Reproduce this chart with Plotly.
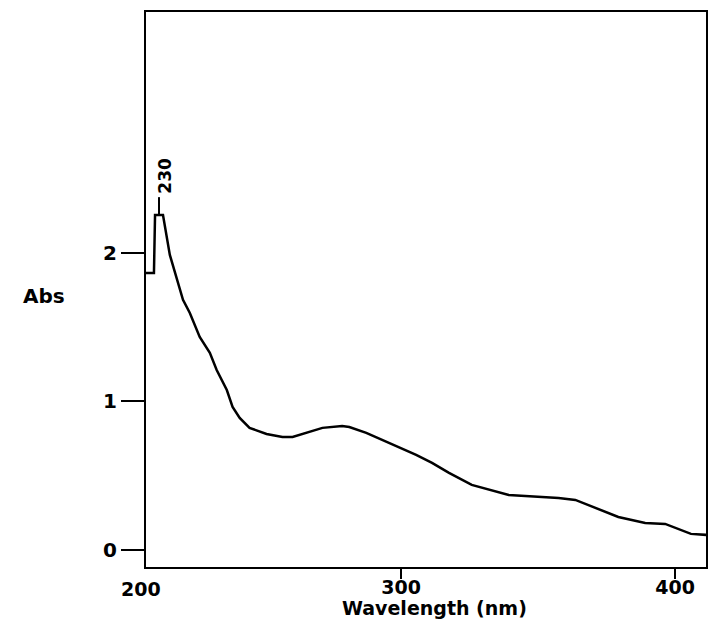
import plotly.graph_objects as go
import numpy as np

# Spectrum
wavelength_nm = [206.9, 209.8, 210.2, 213.1, 215.6, 218.2, 220.4, 222.9, 226.5, 230.2,
                 232.7, 236.4, 238.5, 241.1, 244.7, 250.9, 256.7, 260.4, 265.5, 271.3,
                 278.5, 281.1, 287.3, 293.1, 299.3, 305.5, 311.3, 317.5, 325.8, 339.3,
                 357.5, 363.6, 379.3, 389.1, 396.4, 405.8, 411.6]
absorbance = [1.865, 1.865, 2.256, 2.256, 1.987, 1.818, 1.684, 1.596, 1.434, 1.327,
              1.212, 1.077, 0.963, 0.889, 0.822, 0.781, 0.761, 0.761, 0.788, 0.822,
              0.835, 0.828, 0.788, 0.741, 0.694, 0.640, 0.586, 0.519, 0.438, 0.370,
              0.350, 0.337, 0.222, 0.182, 0.175, 0.108, 0.101]

x_tick_vals = [300, 400]
x_tick_text = ["300", "400"]
y_tick_vals = [0, 1, 2]
y_tick_text = ["0", "1", "2"]
peak_label = "230"

FONT = "DejaVu Sans"

ab = np.array(absorbance)
wl = np.array(wavelength_nm)
pk = np.where(ab == ab.max())[0]
peak_x = float(wl[pk].mean())
peak_y = float(ab.max())

fig = go.Figure()
fig.add_trace(go.Scatter(x=wavelength_nm, y=absorbance, mode="lines",
                         line=dict(color="black", width=2.5), showlegend=False,
                         hoverinfo="skip"))

# peak marker
fig.add_shape(type="line", xref="x", yref="y", x0=peak_x, x1=peak_x,
              y0=peak_y, y1=peak_y + 0.12, line=dict(color="black", width=2))
fig.add_annotation(x=peak_x, y=peak_y + 0.13, xref="x", yref="y", text="<b>" + peak_label + "</b>",
                   textangle=-90, showarrow=False, xanchor="center", yanchor="bottom",
                   xshift=6, font=dict(family=FONT, size=17, color="black"))

fig.update_layout(
    width=709, height=622,
    margin=dict(l=146, r=1, t=12, b=55),
    paper_bgcolor="white", plot_bgcolor="white",
    font=dict(family=FONT, color="black"),
)
fig.update_xaxes(range=[206.9, 411.3], tickvals=x_tick_vals, ticktext=x_tick_text,
                 ticks="outside", ticklen=10, tickwidth=2, tickcolor="black",
                 ticklabelstandoff=-8,
                 showline=True, linewidth=2, linecolor="black", mirror=True,
                 showgrid=False, zeroline=False,
                 tickfont=dict(family=FONT, size=19, color="black", weight="bold"))
fig.update_yaxes(range=[-0.115, 3.623], tickvals=y_tick_vals, ticktext=y_tick_text,
                 ticks="outside", ticklen=23, tickwidth=2, tickcolor="black",
                 showline=True, linewidth=2, linecolor="black", mirror=True,
                 showgrid=False, zeroline=False,
                 tickfont=dict(family=FONT, size=20, color="black", weight="bold"))

fig.add_annotation(x=-0.009, y=-0.039, xref="paper", yref="paper", text="<b>200</b>",
                   showarrow=False, xanchor="center", yanchor="middle",
                   font=dict(family=FONT, size=19, color="black"))
fig.add_annotation(x=0.516, y=-0.073, xref="paper", yref="paper", text="<b>Wavelength (nm)</b>",
                   showarrow=False, xanchor="center", yanchor="middle",
                   font=dict(family=FONT, size=19, color="black"))
fig.add_annotation(x=-0.1815, y=0.488, xref="paper", yref="paper", text="<b>Abs</b>",
                   showarrow=False, xanchor="center", yanchor="middle",
                   font=dict(family=FONT, size=20, color="black"))

fig.write_html("out.html", config={"displayModeBar": False},
               post_script="document.body.style.margin='0px';")
